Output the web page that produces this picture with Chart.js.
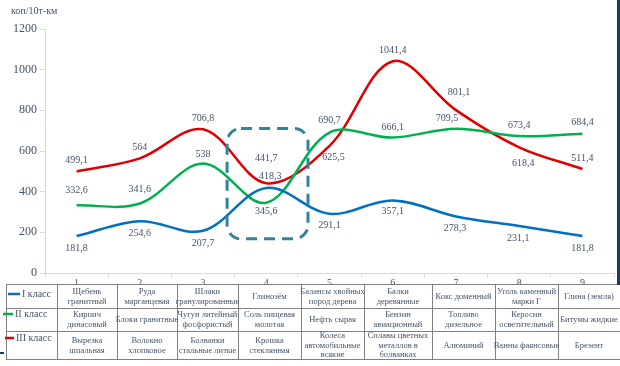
<!DOCTYPE html>
<html>
<head>
<meta charset="utf-8">
<script src="https://cdn.jsdelivr.net/npm/chart.js@4"></script>
<style>
  html, body { margin: 0; padding: 0; background: #fff; }
  #chart { display: block; }
</style>
</head>
<body>
<canvas id="chart" width="620" height="366"></canvas>
<script>
// categories (x-axis numbers)
const categories = ['1', '2', '3', '4', '5', '6', '7', '8', '9'];

// series values, коп/10т-км
const class1 = [181.8, 254.6, 207.7, 418.3, 291.1, 357.1, 278.3, 231.1, 181.8];
const class2 = [332.6, 341.6, 538, 345.6, 690.7, 666.1, 709.5, 673.4, 684.4];
const class3 = [499.1, 564, 706.8, 441.7, 625.5, 1041.4, 801.1, 618.4, 511.4];

const seriesNames = ['I класс', 'II класс', 'III класс'];

// cargo names shown in the data table under the chart
const cargo1 = ['Щебень\nгранитный', 'Руда\nмарганцевая', 'Шлаки\nгранулированные', 'Глинозём',
  'Балансы хвойных\nпород дерева', 'Балки\nдеревянные', 'Кокс доменный', 'Уголь каменный\nмарки Г', 'Глина (земля)'];
const cargo2 = ['Кирпич\nдинасовый', 'Блоки гранитные', 'Чугун литейный\nфосфористый', 'Соль пищевая\nмолотая',
  'Нефть сырая', 'Бензин\nавиационный', 'Топливо\nдизельное', 'Керосин\nосветительный', 'Битумы жидкие'];
const cargo3 = ['Вырезка\nшпальная', 'Волокно\nхлопковое', 'Болванки\nстальные литые', 'Крошка\nстеклянная',
  'Колеса\nавтомобильные\nвсякие', 'Сплавы цветных\nметаллов в\nболванках', 'Алюминий', 'Ванны фаянсовые', 'Брезент'];

const textColor = '#44546A';
const serif = "'Liberation Serif', 'Times New Roman', serif";

// label offsets in px from the point (dx, dy)
const labelDx = [
  [0, 0, 0, 4, 0, 0, -1, -1, 0],
  [0, 0, 0, 0, 0, 0, -9, 0, 0],
  [0, 0, 0, 0, 4, 0, 3, 4, 0]
];
const labelDy = [
  [12, 12, 13, -12, 12, 11, 12, 12, 12],
  [-15, -14, -9, 9, -12, -10, -10, -11, -11],
  [-11, -11, -11, -25, 12, -11, -18, 16, -11]
];

const fmt = v => String(v).replace('.', ',');

const labelsPlugin = {
  id: 'pointLabels',
  afterDatasetsDraw(chart) {
    const ctx = chart.ctx;
    ctx.save();
    ctx.font = '10px ' + serif;
    ctx.fillStyle = textColor;
    ctx.textAlign = 'center';
    ctx.textBaseline = 'middle';
    chart.data.datasets.forEach((ds, i) => {
      chart.getDatasetMeta(i).data.forEach((pt, j) => {
        ctx.fillText(fmt(ds.data[j]), pt.x + labelDx[i][j], pt.y + labelDy[i][j]);
      });
    });

    // dashed highlight round category 4
    const xs = chart.scales.x, ys = chart.scales.y;
    const l = xs.getPixelForValue(2.38), r = xs.getPixelForValue(3.66);
    const t = ys.getPixelForValue(711), b = ys.getPixelForValue(168);
    ctx.strokeStyle = '#31849B';
    ctx.lineWidth = 3;
    ctx.setLineDash([11, 7]);
    ctx.beginPath();
    ctx.roundRect(l, t, r - l, b - t, 14);
    ctx.stroke();
    ctx.restore();
  }
};

const tablePlugin = {
  id: 'dataTable',
  afterDraw(chart) {
    const ctx = chart.ctx;
    const cols = [6, 57, 117, 177, 238, 301, 364, 432, 495, 558, 620];
    const rows = [284, 308, 331, 359];
    ctx.save();
    ctx.fillStyle = '#fff';
    ctx.fillRect(cols[0], rows[0], 620 - cols[0], rows[3] - rows[0]);

    ctx.strokeStyle = '#808080';
    ctx.lineWidth = 1;
    ctx.beginPath();
    rows.forEach(y => { ctx.moveTo(cols[0], y + 0.5); ctx.lineTo(620, y + 0.5); });
    cols.forEach(x => { ctx.moveTo(x + 0.5, rows[0]); ctx.lineTo(x + 0.5, rows[3]); });
    ctx.stroke();

    // legend cells
    const colors = chart.data.datasets.map(d => d.borderColor);
    const legendPos = [[8, 20, 22, 294], [3, 13, 15, 314], [5, 14, 16, 338]];
    ctx.font = '10px ' + serif;
    ctx.textBaseline = 'middle';
    ctx.textAlign = 'left';
    legendPos.forEach((p, i) => {
      ctx.strokeStyle = colors[i];
      ctx.lineWidth = 2.5;
      ctx.beginPath();
      ctx.moveTo(p[0], p[3]);
      ctx.lineTo(p[1], p[3]);
      ctx.stroke();
      ctx.fillStyle = textColor;
      ctx.fillText(seriesNames[i], p[2], p[3]);
    });

    // cargo cells
    ctx.font = '8.5px ' + serif;
    ctx.textAlign = 'center';
    [cargo1, cargo2, cargo3].forEach((row, r) => {
      const cy = (rows[r] + rows[r + 1]) / 2 + 0.5;
      row.forEach((txt, c) => {
        const cx = (cols[c + 1] + cols[c + 2]) / 2;
        const lines = txt.split('\n');
        const lh = 9.6;
        lines.forEach((ln, k) => {
          ctx.fillText(ln, cx, cy + (k - (lines.length - 1) / 2) * lh);
        });
      });
    });

    // axis title
    ctx.font = '10px ' + serif;
    ctx.textAlign = 'left';
    ctx.fillText('коп/10т-км', 11, 11);

    // frame pieces of the slide
    ctx.fillStyle = '#1F3A5F';
    ctx.fillRect(617, 0, 3, 285);
    ctx.fillRect(0, 352, 4, 2);
    ctx.restore();
  }
};

new Chart(document.getElementById('chart'), {
  type: 'line',
  data: {
    labels: categories,
    datasets: [
      { label: seriesNames[0], data: class1, borderColor: '#0070C0' },
      { label: seriesNames[1], data: class2, borderColor: '#00B050' },
      { label: seriesNames[2], data: class3, borderColor: '#E00000' }
    ]
  },
  options: {
    responsive: false,
    animation: false,
    layout: { padding: { top: 29, right: 6, bottom: 73, left: 0 } },
    elements: {
      line: { borderWidth: 2.5, tension: 0.35, fill: false },
      point: { radius: 0 }
    },
    plugins: {
      legend: { display: false },
      tooltip: { enabled: false }
    },
    scales: {
      x: {
        offset: true,
        grid: { offset: true, drawOnChartArea: false, tickLength: 4, color: '#d9d9d9' },
        border: { color: '#d9d9d9' },
        ticks: { font: { family: serif, size: 10 }, color: textColor, padding: 0 },
        afterFit: s => { s.height = 20; }
      },
      y: {
        min: 0,
        max: 1200,
        grid: { drawOnChartArea: false, tickLength: 5, color: '#d9d9d9' },
        border: { color: '#d9d9d9' },
        ticks: {
          stepSize: 200,
          font: { family: serif, size: 12 },
          color: textColor,
          padding: 3,
          callback: v => String(v)
        },
        afterFit: s => { s.width = 45; }
      }
    }
  },
  plugins: [labelsPlugin, tablePlugin]
});
</script>
</body>
</html>
